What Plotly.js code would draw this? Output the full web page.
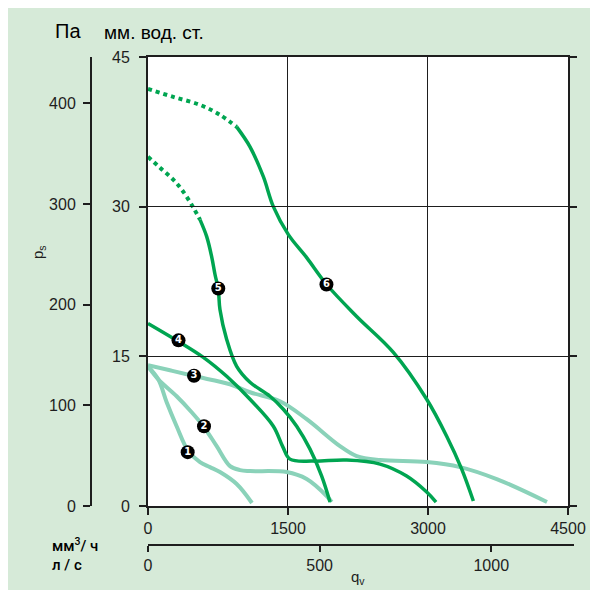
<!DOCTYPE html>
<html><head><meta charset="utf-8">
<script src="https://cdn.plot.ly/plotly-3.0.1.min.js"></script>
<style>
html,body{margin:0;padding:0;background:#fff;width:598px;height:595px;overflow:hidden}
#chart{position:absolute;left:8px;top:8px;width:582px;height:582px}
</style></head>
<body><div id="chart"></div>
<script>
// Flow q (m3/h) and static pressure (mm water column)
const c1Q = [0, 110, 200, 307, 432, 557, 664, 771, 950, 1114];
const c1P = [14.0, 12.7, 10.4, 8.0, 5.5, 4.4, 3.9, 3.4, 2.2, 0.3];
const c2Q = [0, 110, 307, 468, 593, 736, 879, 986, 1093, 1486, 1700, 1914, 1968];
const c2P = [14.0, 12.7, 11.0, 9.4, 8.0, 6.0, 4.0, 3.6, 3.5, 3.4, 2.7, 1.0, 0.4];
const c3Q = [0, 235, 503, 878, 1093, 1414, 1700, 2057, 2236, 2486, 2986, 3343, 3736, 4275];
const c3P = [14.1, 13.6, 13.0, 12.2, 11.4, 10.5, 8.7, 6.0, 5.0, 4.6, 4.4, 3.9, 2.7, 0.4];
const c4Q = [0, 325, 593, 843, 1093, 1343, 1446, 1521, 1771, 2129, 2486, 2771, 2986, 3086];
const c4P = [18.3, 16.5, 14.9, 13.0, 10.7, 8.0, 5.9, 4.7, 4.5, 4.6, 4.2, 3.0, 1.4, 0.4];
const c5dotQ = [0, 129, 271, 378, 486, 557];
const c5dotP = [35.0, 33.9, 32.7, 31.5, 29.9, 28.7];
const c5Q = [557, 629, 682, 718, 753, 771, 843, 950, 1093, 1307, 1450, 1593, 1736, 1861, 1950];
const c5P = [28.7, 27.0, 25.0, 23.2, 21.7, 19.7, 16.7, 14.0, 12.4, 11.0, 9.7, 8.0, 5.7, 3.0, 0.4];
const c6dotQ = [0, 271, 557, 771, 950];
const c6dotP = [41.8, 41.0, 40.2, 39.2, 38.0];
const c6Q = [950, 1093, 1236, 1343, 1504, 1700, 1914, 2236, 2629, 2986, 3200, 3361, 3486];
const c6P = [38.0, 36.0, 33.0, 30.0, 27.2, 24.9, 22.2, 19.0, 15.4, 10.7, 7.0, 3.7, 0.5];
const lblQ = [425, 600, 493, 327, 753, 1912];
const lblP = [5.4, 8.0, 13.05, 16.6, 21.8, 22.2];
const lblText = ['1', '2', '3', '4', '5', '6'];
const qTicks = [0, 1500, 3000, 4500];
const lsTicks = [0, 500, 1000];
const mmTicks = [0, 15, 30, 45];
const paTicks = [0, 100, 200, 300, 400];

const DARK = '#00a551', LIGHT = '#8ad2b9', BG = '#d6ead8', INK = '#1e1e1e';
const SANS = '"Liberation Sans", Arial, sans-serif';
const tf = {family: SANS, size: 16, color: INK};

function line(x, y, color, w, dash) {
  return {x: x, y: y, type: 'scatter', mode: 'lines', hoverinfo: 'skip', showlegend: false,
    line: {color: color, width: w, dash: dash || 'solid', shape: 'spline', smoothing: 1}};
}
const traces = [
  line(c1Q, c1P, LIGHT, 4),
  line(c2Q, c2P, LIGHT, 4),
  line(c3Q, c3P, LIGHT, 4),
  line(c4Q, c4P, DARK, 3.5),
  line(c5dotQ, c5dotP, DARK, 4, 'dot'),
  line(c5Q, c5P, DARK, 3.5),
  line(c6dotQ, c6dotP, DARK, 4, 'dot'),
  line(c6Q, c6P, DARK, 3.5),
  {x: lblQ, y: lblP, text: lblText, type: 'scatter', mode: 'markers+text', textposition: 'middle center',
   hoverinfo: 'skip', showlegend: false, cliponaxis: false,
   marker: {color: '#000', size: 14, line: {width: 0}},
   textfont: {family: 'DejaVu Sans, sans-serif', size: 10, color: '#fff', weight: 'bold'}},
  {x: [0], y: [-10], xaxis: 'x2', yaxis: 'y', type: 'scatter', mode: 'markers', hoverinfo: 'skip',
   showlegend: false, marker: {opacity: 0}},
  {x: [0], y: [-100], xaxis: 'x', yaxis: 'y2', type: 'scatter', mode: 'markers', hoverinfo: 'skip',
   showlegend: false, marker: {opacity: 0}}
];

const ax = {showline: true, linecolor: INK, linewidth: 2, ticks: 'outside', ticklen: 7, tickwidth: 2,
  tickcolor: INK, tickfont: tf, zeroline: false, automargin: false, fixedrange: true};

const layout = {
  width: 582, height: 582,
  margin: {l: 83, r: 16, t: 49, b: 45},
  paper_bgcolor: BG, plot_bgcolor: 'rgba(0,0,0,0)',
  showlegend: false,
  xaxis: Object.assign({}, ax, {domain: [0.11801, 0.98758], range: [0, 4500], tickvals: qTicks,
    ticktext: qTicks.map(String), mirror: true, showgrid: true, gridcolor: INK, gridwidth: 1, anchor: 'y'}),
  xaxis2: Object.assign({}, ax, {domain: [0.11801, 1], range: [0, 1241], tickvals: lsTicks,
    ticktext: lsTicks.map(String), anchor: 'free', position: 0, side: 'bottom', showgrid: false, ticklen: 6}),
  yaxis: Object.assign({}, ax, {domain: [0.0799, 1], range: [0, 45], tickvals: mmTicks,
    ticktext: mmTicks.map(String), mirror: 'ticks', showgrid: true, gridcolor: INK, gridwidth: 1, anchor: 'x',
    ticklabelstandoff: 6}),
  yaxis2: Object.assign({}, ax, {overlaying: 'y', range: [0, 446], tickvals: paTicks,
    ticktext: paTicks.map(String), anchor: 'free', position: 0, side: 'left', showgrid: false,
    ticklabelstandoff: 4}),
  shapes: [{type: 'rect', xref: 'x', yref: 'y', x0: 0, x1: 4500, y0: 0, y1: 45,
    fillcolor: '#fff', line: {width: 0}, layer: 'below'}],
  annotations: [
    {text: 'Па', xref: 'paper', yref: 'paper', x: -0.048, y: 1.053, showarrow: false, xanchor: 'center', yanchor: 'middle',
     font: {family: SANS, size: 20, color: '#000'}},
    {text: 'мм. вод. ст.', xref: 'paper', yref: 'paper', x: 0.130, y: 1.05, showarrow: false, xanchor: 'center', yanchor: 'middle',
     font: {family: SANS, size: 19, color: '#000'}},
    {text: 'p<sub>s</sub>', xref: 'paper', yref: 'paper', x: -0.110, y: 0.60, textangle: -90, showarrow: false,
     xanchor: 'center', yanchor: 'middle', font: {family: SANS, size: 15, color: INK}},
    {text: 'q<sub>v</sub>', xref: 'paper', yref: 'paper', x: 0.553, y: -0.066, showarrow: false,
     xanchor: 'center', yanchor: 'middle', font: {family: SANS, size: 15, color: INK}},
    {text: 'мм<sup>3</sup>/ ч', xref: 'paper', yref: 'paper', x: -0.085, y: 0.0, showarrow: false,
     xanchor: 'left', yanchor: 'middle', font: {family: 'Roboto, sans-serif', size: 15, color: '#000', weight: 500}},
    {text: 'л / с', xref: 'paper', yref: 'paper', x: -0.085, y: -0.041, showarrow: false,
     xanchor: 'left', yanchor: 'middle', font: {family: 'Roboto, sans-serif', size: 15, color: '#000', weight: 500}}
  ]
};
Plotly.newPlot('chart', traces, layout, {staticPlot: true, displayModeBar: false});
</script></body></html>
